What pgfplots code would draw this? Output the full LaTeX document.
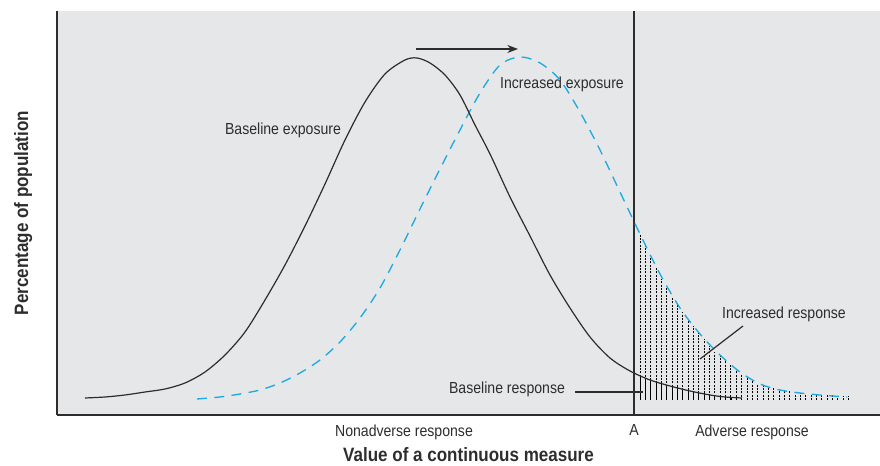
\documentclass[border=0pt]{standalone}
\usepackage{fontspec}
\setmainfont{Liberation Sans}[FakeStretch=0.88]
\usepackage{pgfplots}
\pgfplotsset{compat=1.18}
\usetikzlibrary{arrows.meta}
\definecolor{bg}{RGB}{230,231,232}
\definecolor{dashblue}{RGB}{30,170,225}
\definecolor{txt}{RGB}{45,45,45}
\begin{document}
\begin{tikzpicture}
\begin{axis}[
  scale only axis, width=617.25pt, height=303pt,
  xmin=57, xmax=880, ymin=-15, ymax=389,
  axis x line*=bottom, axis y line*=left,
  axis line style={line width=1pt, color=txt, -},
  axis background/.style={fill=bg},
  xtick={404,634,752},
  xticklabels={Nonadverse response, A, Adverse response},
  ytick=\empty,
  major tick length=0pt,
  xticklabel shift=3.75pt,
  tick label style={font=\fontsize{12}{14}\selectfont, text=txt},
  xlabel={Value of a continuous measure},
  ylabel={Percentage of population},
  xlabel shift=-1pt,
  ylabel shift=15pt,
  label style={font=\bfseries\fontsize{14.5}{17}\selectfont, text=txt},
  clip=false,
]
% dotted hatching under the increased-exposure curve
\addplot[ycomb, black, line width=0.7pt, dash pattern=on 1.4pt off 1.1pt, mark=none] coordinates {
(640,166)(645.35,156)(650.7,143)(656.05,132)(661.4,121)(666.75,112)(672.1,103)(677.45,95)(682.8,88)(688.15,81)(693.5,74)(698.85,67)(704.2,61)(709.55,54)(714.9,48)(720.25,44)(725.6,39)(730.95,35)(736.3,30)(741.65,26)(747,23)(752.35,20)(757.7,16)(763.05,14)(768.4,13)(773.75,12)(779.1,10)(784.45,9.3)(789.8,8.5)(795.15,7.7)(800.5,7)(805.85,6.4)(811.2,5.9)(816.55,5.3)(821.9,5)(827.25,4.7)(832.6,4.5)(837.95,4.3)(843.3,4.1)(848.65,4)};
% solid hatching under the baseline curve
\addplot[ycomb, black, line width=0.65pt, mark=none] coordinates {
(640,24)(645.35,22.2)(650.7,20.4)(656.05,18.6)(661.4,16.8)(666.75,15.1)(672.1,13.8)(677.45,12.5)(682.8,11.2)(688.15,9.9)(693.5,8.6)(698.85,7.3)(704.2,6.5)(709.55,5.9)(714.9,5.3)(720.25,4.6)(725.6,4)(730.95,3.4)(736.3,2.8)(741.65,2.2)};
% threshold A
\addplot[txt, line width=0.9pt, mark=none] coordinates {(634,-15)(634,389)};
% increased exposure
\addplot[dashblue, line width=1pt, dash pattern=on 7.5pt off 5.5pt, smooth, mark=none] coordinates {
(197,1)(220,3)(240,6)(260,10)(280,17)(300,27)(320,40)(340,58)(360,82)(380,112)(400,150)(420,191)(440,231)(460,270)(480,307)(500,335)(520,343)(540,337)(560,320)(580,288)(600,250)(620,208)(640,166)(660,126)(680,92)(700,66)(720,45)(740,28)(760,16)(780,10)(800,7)(820,5)(847,3)};
% baseline exposure
\addplot[txt, line width=0.9pt, smooth, mark=none] coordinates {
(85,2)(105,3)(125,5)(145,8)(165,11)(185,17)(205,28)(225,45)(245,68)(265,100)(285,135)(305,174)(325,216)(345,260)(365,298)(385,326)(405,340)(417,342)(430,337)(445,325)(460,305)(475,275)(490,246)(510,203)(530,164)(550,125)(570,92)(590,63)(610,42)(630,29)(650,20)(670,14)(690,9)(710,5)(725,3)(742,2)};
% shift arrow
\draw[txt, line width=0.9pt, -{Stealth[length=8pt,width=6pt]}] (axis cs:416,351) -- (axis cs:518,351);
% leader lines
\draw[txt, line width=0.9pt] (axis cs:575,8) -- (axis cs:643,8);
\draw[txt, line width=0.9pt] (axis cs:743,74) -- (axis cs:700,41);
% labels
\node[text=txt, font=\fontsize{12}{14}\selectfont] at (axis cs:283,270) {Baseline exposure};
\node[text=txt, font=\fontsize{12}{14}\selectfont] at (axis cs:562,316) {Increased exposure};
\node[text=txt, font=\fontsize{12}{14}\selectfont] at (axis cs:784,86) {Increased response};
\node[text=txt, font=\fontsize{12}{14}\selectfont] at (axis cs:507,11) {Baseline response};
\coordinate (bbA) at (axis cs:0,-66);
\coordinate (bbB) at (axis cs:880,400);
\end{axis}
\pgfresetboundingbox
\path[use as bounding box] (bbA) rectangle (bbB);
\end{tikzpicture}
\end{document}
